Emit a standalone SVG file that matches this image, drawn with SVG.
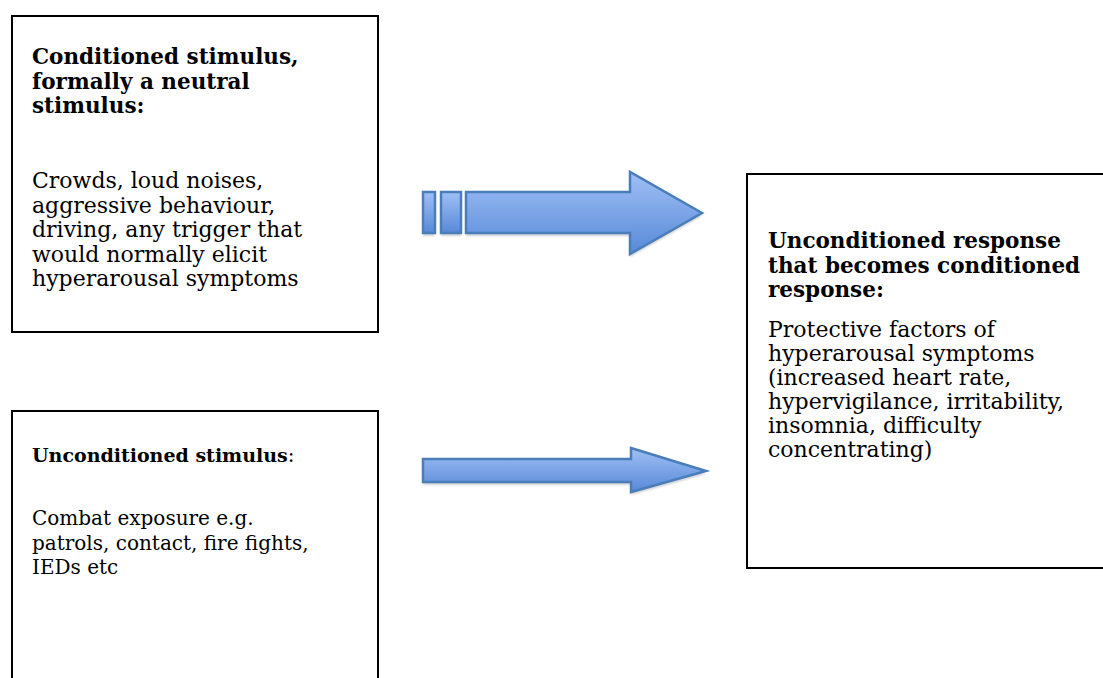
<svg xmlns="http://www.w3.org/2000/svg" width="1103" height="678" viewBox="0 0 1103 678">
  <style>
    .box { fill: #ffffff; stroke: #000000; stroke-width: 2; }
    .t { font-family: "DejaVu Serif", "Liberation Serif", serif; font-size: 22px; fill: #000000; }
    .b { font-weight: bold; font-size: 21.5px; }
    .s { font-size: 20px; }
    .sb { font-size: 19px; font-weight: bold; }
    .arrow { fill: url(#blueFill); stroke: #4a7ebb; stroke-width: 2.5; stroke-linejoin: miter; }
    .shadow { fill: #000000; opacity: 0.18; filter: url(#soft); }
  </style>
  <defs>
    <linearGradient id="blueFill" x1="0" y1="0" x2="0" y2="1">
      <stop offset="0" stop-color="#a0c0f5"/>
      <stop offset="1" stop-color="#5889d8"/>
    </linearGradient>
    <filter id="soft" x="-5%" y="-20%" width="110%" height="140%">
      <feGaussianBlur stdDeviation="1.2"/>
    </filter>
  </defs>

  <rect width="1103" height="678" fill="#ffffff"/>

  <!-- conditioned stimulus -->
  <g id="conditioned-stimulus">
    <rect class="box" x="12" y="16" width="366" height="316"/>
    <text class="t b" x="32" y="64">Conditioned stimulus,</text>
    <text class="t b" x="32" y="88.5">formally a neutral</text>
    <text class="t b" x="32" y="113">stimulus:</text>
    <text class="t" x="32" y="188">Crowds, loud noises,</text>
    <text class="t" x="32" y="212.5">aggressive behaviour,</text>
    <text class="t" x="32" y="237">driving, any trigger that</text>
    <text class="t" x="32" y="261.5">would normally elicit</text>
    <text class="t" x="32" y="286">hyperarousal symptoms</text>
  </g>

  <!-- unconditioned stimulus -->
  <g id="unconditioned-stimulus">
    <rect class="box" x="12" y="411" width="366" height="280"/>
    <text class="t s" x="32" y="462"><tspan class="sb">Unconditioned stimulus</tspan>:</text>
    <text class="t s" x="32" y="525">Combat exposure e.g.</text>
    <text class="t s" x="32" y="549.5">patrols, contact, fire fights,</text>
    <text class="t s" x="32" y="574">IEDs etc</text>
  </g>

  <!-- response -->
  <g id="response">
    <rect class="box" x="747" y="174" width="370" height="394"/>
    <text class="t b" x="768" y="248">Unconditioned response</text>
    <text class="t b" x="768" y="272.5">that becomes conditioned</text>
    <text class="t b" x="768" y="297">response:</text>
    <text class="t" x="768" y="337">Protective factors of</text>
    <text class="t" x="768" y="361">hyperarousal symptoms</text>
    <text class="t" x="768" y="385">(increased heart rate,</text>
    <text class="t" x="768" y="409">hypervigilance, irritability,</text>
    <text class="t" x="768" y="433">insomnia, difficulty</text>
    <text class="t" x="768" y="457">concentrating)</text>
  </g>

  <!-- connectors -->
  <g id="connectors">
    <!-- striped block arrow: conditioned stimulus to response -->
    <g id="arrow-conditioned">
      <g transform="translate(0,3)">
        <rect class="shadow" x="423" y="192" width="12" height="41"/>
        <rect class="shadow" x="441" y="192" width="20" height="41"/>
        <polygon class="shadow" points="466,192 630,192 630,172 702,213 630,254 630,233 466,233"/>
      </g>
      <rect class="arrow" x="423" y="192" width="12" height="41"/>
      <rect class="arrow" x="441" y="192" width="20" height="41"/>
      <polygon class="arrow" points="466,192 630,192 630,172 702,213 630,254 630,233 466,233"/>
    </g>
    <!-- plain block arrow: unconditioned stimulus to response -->
    <g id="arrow-unconditioned">
      <polygon class="shadow" transform="translate(0,3)" points="423,459 631,459 631,448 706,471 631,492 631,482 423,482"/>
      <polygon class="arrow" points="423,459 631,459 631,448 706,471 631,492 631,482 423,482"/>
    </g>
  </g>
</svg>
